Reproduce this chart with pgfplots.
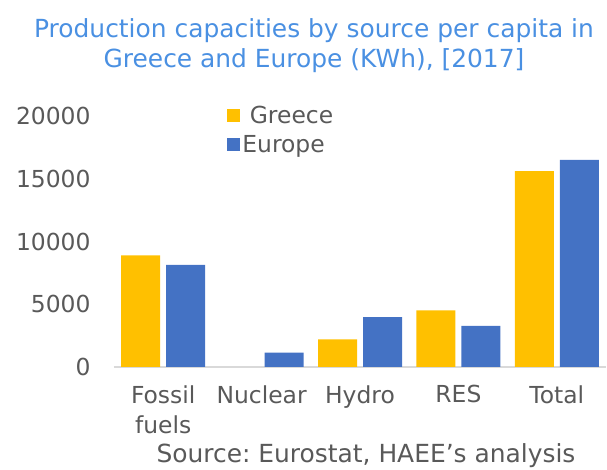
\documentclass[border=0pt]{standalone}
\usepackage{pgfplots}
\pgfplotsset{compat=1.18}
\usepackage{fontspec}
\setmainfont{DejaVu Sans}
\frenchspacing
\definecolor{greececol}{HTML}{FFC000}
\definecolor{europecol}{HTML}{4472C4}
\definecolor{txtgray}{HTML}{595959}
\definecolor{titleblue}{HTML}{4A90E2}
\definecolor{basegray}{HTML}{D9D9D9}
\begin{document}
\begin{tikzpicture}
\useasboundingbox (-114bp,-103bp) rectangle (493bp,367bp);
\begin{axis}[
  at={(0bp,0bp)}, anchor=south west,
  scale only axis,
  width=492bp, height=251bp,
  xmin=-0.5, xmax=4.5, ymin=0, ymax=20000,
  ybar=6bp, bar width=39bp,
  xtick={0,1,2,3,4},
  xticklabels={{Fossil\\fuels},Nuclear,Hydro,RES,Total},
  xticklabel style={align=center, text=txtgray, font=\fontsize{23.5}{30}\selectfont, anchor=north, yshift=-15bp},
  ytick={0,5000,10000,15000,20000},
  yticklabel style={text=txtgray, font=\fontsize{23.5}{25}\selectfont, anchor=east, xshift=-20bp},
  /pgf/number format/assume math mode=true,
  scaled y ticks=false,
  y tick label style={/pgf/number format/.cd, set thousands separator={}},
  major tick length=0pt,
  axis x line*=bottom,
  axis y line*=left,
  y axis line style={draw=none},
  x axis line style={draw=basegray, line width=1.5bp, -},
  legend style={at={(0.224,1.055)}, anchor=north west, draw=none, fill=none,
    font=\fontsize{23.5}{26}\selectfont, text=txtgray, row sep=6bp,
    legend cell align=left},
  legend image code/.code={\fill[#1] (0bp,-6.5bp) rectangle (13bp,6.5bp);},
]
\addplot[fill=greececol, draw=none] coordinates {(0,8900) (1,0) (2,2200) (3,4520) (4,15600)};
\addplot[fill=europecol, draw=none] coordinates {(0,8130) (1,1140) (2,3980) (3,3270) (4,16500)};
\legend{\ Greece, Europe}
\end{axis}
\node[text=titleblue, align=center, font=\fontsize{25}{30}\selectfont] at (200bp,321bp) {Production capacities by source per capita in\\Greece and Europe (KWh), [2017]};
\node[text=txtgray, font=\fontsize{25}{28}\selectfont] at (252bp,-89bp) {Source: Eurostat, HAEE’s analysis};
\end{tikzpicture}
\end{document}
